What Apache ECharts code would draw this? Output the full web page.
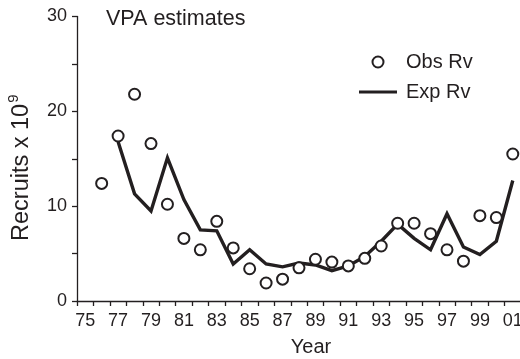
<!DOCTYPE html>
<html>
<head>
<meta charset="utf-8">
<script src="https://cdn.jsdelivr.net/npm/echarts@6/dist/echarts.min.js"></script>
<style>
  html, body { margin: 0; padding: 0; background: #ffffff; }
  #chart { width: 520px; height: 359px; }
</style>
</head>
<body>
<div id="chart"></div>
<script>
// Recruitment by year class, 1975-2001 (two-digit year labels)
var years = ['75','76','77','78','79','80','81','82','83','84','85','86','87','88',
             '89','90','91','92','93','94','95','96','97','98','99','00','01'];

// Observed recruits (x 10^9)
var obsRv = [null, 12.4, 17.4, 21.8, 16.6, 10.2, 6.6, 5.4, 8.4, 5.6, 3.4, 1.9, 2.3, 3.5,
             4.4, 4.1, 3.7, 4.5, 5.8, 8.2, 8.2, 7.1, 5.4, 4.2, 9.0, 8.8, 15.5];

// Expected recruits (x 10^9)
var expRv = [null, null, 16.8, 11.3, 9.5, 15.1, 10.7, 7.5, 7.4, 3.9, 5.4, 3.9, 3.6, 4.0,
             3.8, 3.2, 3.7, 4.7, 6.3, 8.1, 6.6, 5.4, 9.2, 5.7, 4.9, 6.3, 12.7];

var yTicks = [0, 10, 20, 30];

var ink = '#231f20';
var font = '"Liberation Sans", Arial, Helvetica, sans-serif';

// legend swatch for the line: a 3px bar centred in a 38x10 box
var lineIcon = 'path://M0,0 M0,3.5 L38,3.5 L38,6.5 L0,6.5 Z M38,10';

var chart = echarts.init(document.getElementById('chart'), null, { renderer: 'canvas' });

chart.setOption({
  animation: false,
  backgroundColor: '#ffffff',
  textStyle: { fontFamily: font, color: ink },
  title: {
    text: 'VPA estimates',
    left: 106,
    top: 8,
    padding: 0,
    textStyle: { fontFamily: font, fontSize: 21.5, fontWeight: 'normal', color: ink }
  },
  legend: {
    orient: 'vertical',
    left: 359,
    top: 52,
    padding: 0,
    itemWidth: 38,
    itemHeight: 11,
    itemGap: 10,
    textStyle: { fontFamily: font, fontSize: 20, color: ink, lineHeight: 20, padding: [0, 0, 0, 4] },
    data: [
      { name: 'Obs Rv', icon: 'emptyCircle' },
      { name: 'Exp Rv', icon: lineIcon }
    ]
  },
  grid: {
    left: 77,
    top: 16.5,
    bottom: 58,
    width: 444,
    containLabel: false,
    outerBoundsMode: 'none'
  },
  xAxis: {
    type: 'category',
    data: years,
    boundaryGap: true,
    name: 'Year',
    nameLocation: 'middle',
    nameGap: 36,
    nameTextStyle: { fontFamily: font, fontSize: 20, color: ink, padding: [0, 0, 0, 24] },
    axisLine: { lineStyle: { color: ink, width: 1.3 } },
    axisTick: { show: true, interval: 0, length: 5, lineStyle: { color: ink, width: 1.3 } },
    axisLabel: { interval: 1, margin: 11, fontFamily: font, fontSize: 18, color: ink },
    splitLine: { show: false }
  },
  yAxis: {
    type: 'value',
    min: yTicks[0],
    max: yTicks[yTicks.length - 1],
    interval: 5,
    name: '{b|Recruits x 10}{s|9}',
    nameLocation: 'middle',
    nameGap: 43,
    nameRotate: 90,
    nameTextStyle: {
      fontFamily: font,
      color: ink,
      padding: [0, 18, 0, 0],
      rich: {
        b: { fontFamily: font, fontSize: 23.5, color: ink, lineHeight: 28, verticalAlign: 'bottom' },
        s: { fontFamily: font, fontSize: 15, color: ink, lineHeight: 28, verticalAlign: 'top', padding: [0, 0, 0, 1] }
      }
    },
    axisLine: { show: true, lineStyle: { color: ink, width: 1.3 } },
    axisTick: { show: true, length: 5, lineStyle: { color: ink, width: 1.3 } },
    axisLabel: {
      margin: 10,
      fontFamily: font,
      fontSize: 18,
      color: ink,
      formatter: function (v) { return yTicks.indexOf(v) >= 0 ? String(v) : ''; }
    },
    splitLine: { show: false }
  },
  series: [
    {
      name: 'Obs Rv',
      type: 'scatter',
      data: obsRv,
      symbol: 'emptyCircle',
      symbolSize: 11,
      itemStyle: { color: ink, borderWidth: 1.7, opacity: 1 },
      z: 3
    },
    {
      name: 'Exp Rv',
      type: 'line',
      data: expRv,
      symbol: 'none',
      showSymbol: false,
      connectNulls: false,
      lineStyle: { color: ink, width: 3.4, join: 'miter' },
      itemStyle: { color: ink },
      z: 2
    }
  ]
});
</script>
</body>
</html>
